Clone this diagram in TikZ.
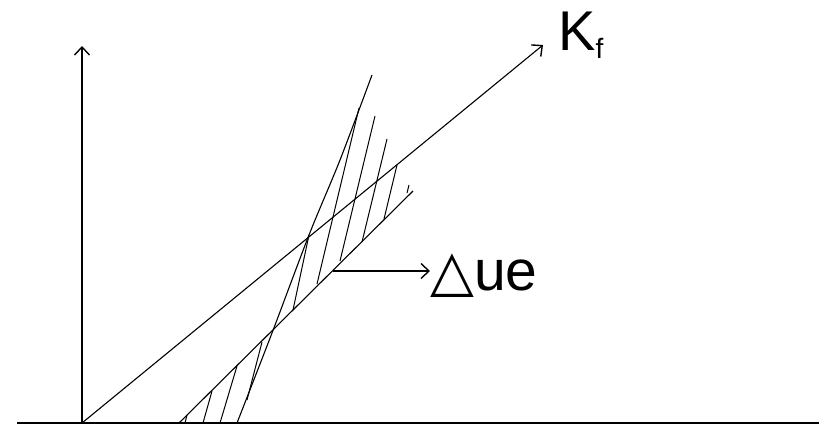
\documentclass[tikz,border=0pt]{standalone}
\usepackage{fontspec}
\setmainfont{Liberation Sans}
\newfontfamily\symfont{DejaVu Sans}
\usetikzlibrary{arrows.meta}
\colorlet{lines}{black}
\tikzset{
    curve/.style={lines, line width=1.1pt},
    hatch/.style={lines, line width=1pt},
    arr/.style={-{Straight Barb[length=8pt,width=15pt,line width=1.4pt]}}
}

\begin{document}
\begin{tikzpicture}[x=1pt,y=-1pt]
        \useasboundingbox (0,0) rectangle (819,426);
        \coordinate (o) at (82,423);
        \coordinate (xend) at (819,423);
        \coordinate (xstart) at (17,423);
        \coordinate (ytop) at (82,46);
        \coordinate (kftip) at (543,45);
        \coordinate (e0) at (179,423);
        \coordinate (e1) at (413,191);
        \coordinate (arrstart) at (333,271);
        \draw[curve] (xstart)--(xend);
        \draw[curve,arr] (o)--(ytop);
        \draw[curve,arr] (o)--(kftip);
        \draw[curve] (e0)--(e1);
        \draw[curve] plot[smooth] coordinates {(237,423) (272,333) (309,235) (340,160) (372,75)};
        \foreach \xa/\ya/\xb/\yb in {309/235/293/310, 359/108/317/284, 375/116/340/261, 387/139/362/242, 397/165/384/219, 409/185/407/193,
                                     187/415/185/423, 212/391/203/423, 237/366/220/423, 262/342/247/400}
        {
            \draw[hatch] (\xa,\ya)--(\xb,\yb);
        }
        \node[anchor=base west, inner sep=0pt, font=\fontsize{57}{60}\selectfont] (due) at (430,290) {{\symfont △}ue};
        \draw[curve,arr] (arrstart)--(due.west |- arrstart);
        \node[anchor=base west, inner sep=0pt, font=\fontsize{56}{60}\selectfont] (kf) at (558,50) {K\raisebox{-8pt}{\fontsize{28}{30}\selectfont f}};
    \end{tikzpicture}
\end{document}
